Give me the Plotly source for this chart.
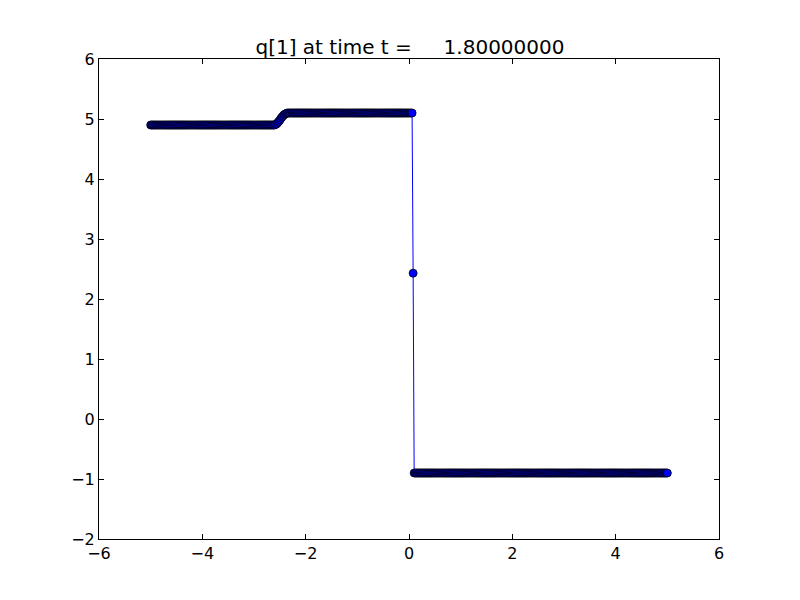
import numpy as np
import plotly.graph_objects as go

# cell grid of the solution, x from -5 to 5
x_first = -5.0
x_last = 5.0
n_cells = 501

# q[1], plateau by plateau
q_left = 4.90          # x from -5.00 to -2.62
q_ramp = [4.90, 4.91, 4.92, 4.94, 4.96, 4.98, 5.01, 5.03,
          5.05, 5.07, 5.08, 5.09, 5.10, 5.10, 5.10]   # x from -2.60 to -2.32
q_upper = 5.10         # x from -2.30 to 0.06
q_mid = [2.43]         # x = 0.08
q_lower = -0.90        # x from 0.10 to 5.00

x = np.round(np.linspace(x_first, x_last, n_cells), 2)
n_left = int(np.sum(x < -2.61))
n_upper = int(np.sum((x > -2.31) & (x < 0.07)))
n_lower = len(x) - n_left - len(q_ramp) - n_upper - len(q_mid)
q = [q_left] * n_left + q_ramp + [q_upper] * n_upper + q_mid + [q_lower] * n_lower

fig = go.Figure()
fig.add_trace(go.Scatter(
    x=x, y=q, mode="lines+markers",
    line=dict(color="#0000ff", width=1),
    marker=dict(size=8, color="#0000ff", line=dict(color="black", width=0.8)),
    showlegend=False,
))

axis = dict(
    showline=True, linecolor="black", linewidth=1, mirror="ticks",
    ticks="inside", ticklen=5, tickcolor="black", showgrid=False,
    zeroline=False, tickfont=dict(size=16, color="black"),
)
fig.update_xaxes(range=[-6, 6], dtick=2, **axis)
fig.update_yaxes(range=[-2, 6], dtick=1, **axis)

# the page body adds 8px, so the margins are shifted to keep the frame in place
fig.update_layout(
    width=800, height=600,
    margin=dict(l=91, r=89, t=51, b=69),
    paper_bgcolor="white", plot_bgcolor="white",
    font=dict(family="DejaVu Sans", color="black"),
    title=dict(text="q[1] at time t =\u00a0\u00a0\u00a0\u00a0 1.80000000",
               x=0.5025, xanchor="center", y=0.935, yanchor="middle",
               font=dict(size=20, color="black")),
)

fig.write_html("out.html")
